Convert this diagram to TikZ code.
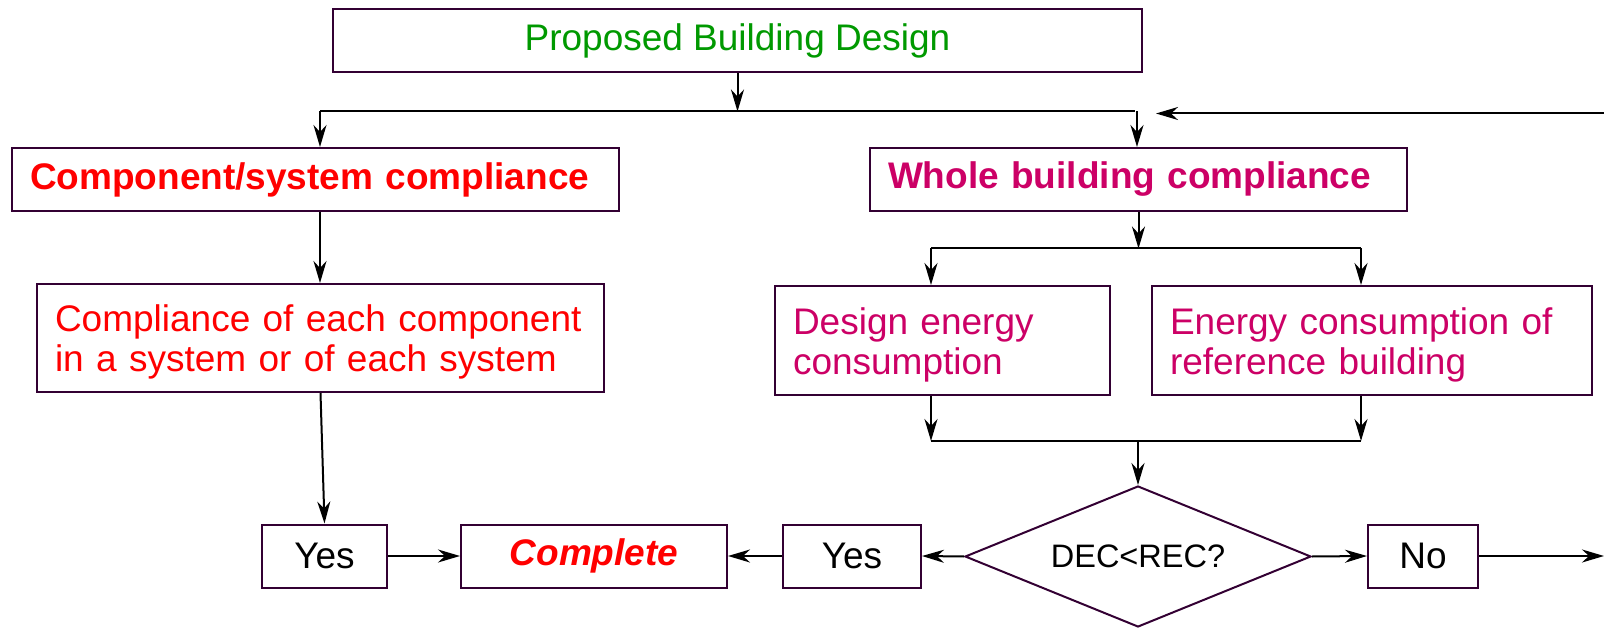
\documentclass[tikz,border=0pt]{standalone}
\usepackage{fontspec}
\setmainfont{Liberation Sans}
\usetikzlibrary{arrows.meta,shapes.geometric}
\definecolor{boxline}{RGB}{51,0,51}
\definecolor{titlegreen}{RGB}{0,153,0}
\definecolor{wholepink}{RGB}{204,0,102}
\newcommand{\boxfont}{\fontsize{37}{40}\selectfont}
\newcommand{\topstrut}{\rule{0pt}{35pt}}
\tikzset{
  box/.style={draw=boxline, line width=2pt, fill=white, inner sep=0pt, minimum height=63pt, font=\boxfont},
  leftbox/.style={box, align=left, inner xsep=18pt, text width=#1},
  line/.style={line width=2pt, black},
  arr/.style={line, -{Stealth[length=22pt,width=13pt,inset=7pt]}},
}
\begin{document}
\begin{tikzpicture}[x=1pt,y=-1pt]
\useasboundingbox (0,0) rectangle (1604,628);

\node[box, minimum width=809pt, text=titlegreen] (prop) at (737.5,41) {Proposed Building Design};
\node[leftbox=571pt, text=red, font=\boxfont\bfseries] (comp) at (315.5,179.5) {Component/system compliance};
\node[leftbox=501pt, text=wholepink, font=\boxfont\bfseries] (whole) at (1138.5,179.5) {Whole building compliance};
\node[leftbox=531pt, minimum height=108pt, text=red] (each) at (320.5,338) {\topstrut Compliance of each component\\in a system or of each system};
\node[leftbox=299pt, minimum height=109pt, text=wholepink] (dec) at (942.5,340.5) {\topstrut Design energy\\consumption};
\node[leftbox=404pt, minimum height=109pt, text=wholepink] (rec) at (1372,340.5) {\topstrut Energy consumption of\\reference building};
\node[draw=boxline, line width=2pt, diamond, aspect=2.45, minimum width=346pt, minimum height=141pt, inner sep=0pt, font=\fontsize{32.5}{36}\selectfont] (check) at (1138,556.5) {DEC<REC?};
\node[box, minimum width=125pt] (yesA) at (324.5,556) {Yes};
\node[box, minimum width=266pt, text=red, font=\boxfont\bfseries\itshape] (done) at (594,556) {Complete};
\node[box, minimum width=138pt] (yesB) at (852,556) {Yes};
\node[box, minimum width=110pt] (no) at (1423,556) {No};

% split below the design
\coordinate (splitL) at (320,111.5);
\coordinate (splitR) at (1135,111.5);
\draw[line] (splitL) -- (splitR);
\draw[arr] (prop.south) -- (prop.south |- splitL);
\draw[arr] (splitL) -- (splitL |- comp.north);
\draw[arr] ([xshift=2pt]splitR) -- ([xshift=2pt]splitR |- whole.north);
\coordinate (loopin) at (1604,113.5);
\coordinate (loopend) at (1156,113.5);
\draw[arr] (loopin) -- (loopend);

\draw[arr] (comp.south -| splitL) -- (each.north -| splitL);
\draw[arr] (each.south) -- (yesA.north);

\coordinate (forkL) at (931,248.5);
\coordinate (forkR) at (1361,248.5);
\draw[arr] (whole.south) -- (whole.south |- forkL);
\draw[line] (forkL) -- (forkR);
\draw[arr] (forkL) -- (forkL |- dec.north);
\draw[arr] (forkR) -- (forkR |- rec.north);
\coordinate (joinL) at (931,441);
\coordinate (joinR) at (1361,441);
\draw[arr] (forkL |- dec.south) -- (joinL);
\draw[arr] (forkR |- rec.south) -- (joinR);
\draw[line] (joinL) -- (joinR);
\draw[arr] (check.north |- joinL) -- (check.north);

\draw[arr] (yesA.east) -- (done.west);
\draw[arr] (yesB.west) -- (done.east);
\draw[arr] (check.west) -- (yesB.east);
\draw[arr] (check.east) -- (no.west);
\coordinate (exit) at (1604,556);
\draw[arr] (no.east) -- (exit);
\end{tikzpicture}
\end{document}
